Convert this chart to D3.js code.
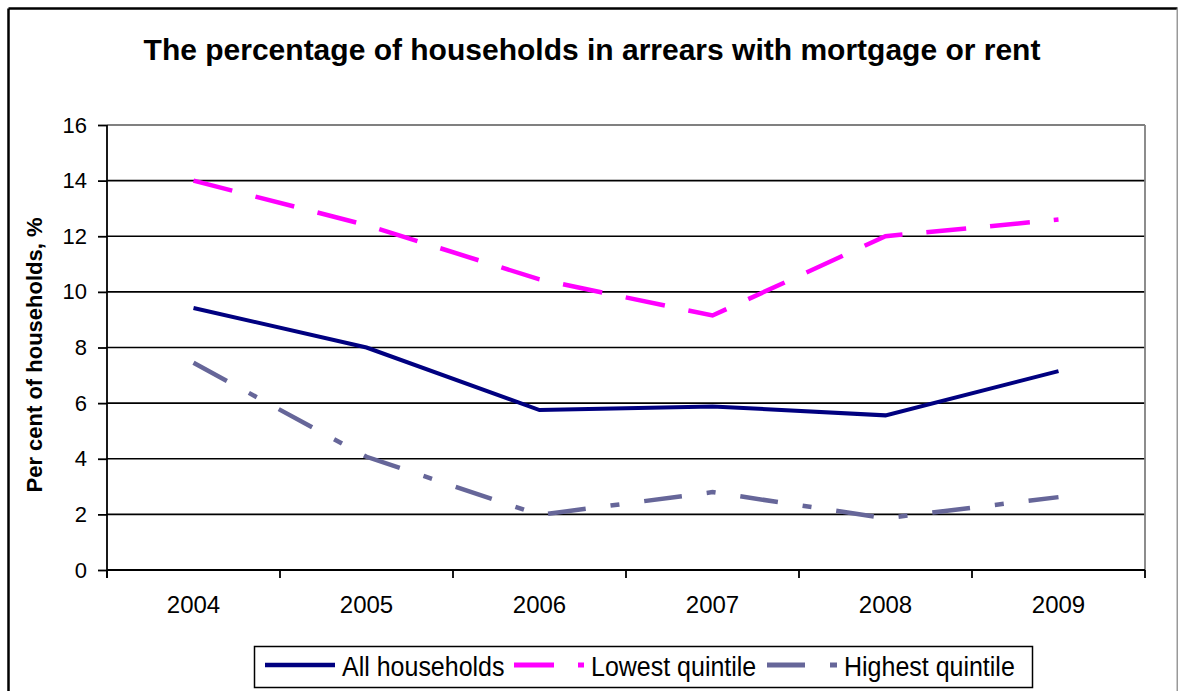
<!DOCTYPE html>
<html>
<head>
<meta charset="utf-8">
<script src="https://cdn.jsdelivr.net/npm/d3@7"></script>
<style>
  html, body { margin: 0; padding: 0; background: #fff; }
  svg { display: block; font-family: Arial, "Liberation Sans", sans-serif; }
</style>
</head>
<body>
<svg id="chart" width="1178" height="691"></svg>
<script>
const years = ["2004", "2005", "2006", "2007", "2008", "2009"];
const allHouseholds = [9.42, 8.0, 5.75, 5.88, 5.56, 7.15];
const lowestQuintile = [14.0, 12.4, 10.45, 9.15, 12.0, 12.6];
const highestQuintile = [7.45, 4.07, 1.98, 2.8, 1.86, 2.62];
const yTicks = [0, 2, 4, 6, 8, 10, 12, 14, 16];
const seriesNames = ["All households", "Lowest quintile", "Highest quintile"];
const title = "The percentage of households in arrears with mortgage or rent";
const yLabel = "Per cent of households, %";

const styles = [
  { color: "#000080", width: 4, dash: null },
  { color: "#FF00FF", width: 4.5, dash: "40,24" },
  { color: "#666699", width: 4.5, dash: "38,25,9,25" }
];
const seriesValues = [allHouseholds, lowestQuintile, highestQuintile];

const svg = d3.select("#chart");
const L = 107, R = 1145, T = 125, B = 570;

// outer frame
svg.append("line").attr("x1", 8.5).attr("x2", 8.5).attr("y1", 8.5).attr("y2", 700)
  .attr("stroke", "#000").attr("stroke-width", 2.5);
svg.append("line").attr("x1", 8.5).attr("x2", 1177.5).attr("y1", 8.5).attr("y2", 8.5)
  .attr("stroke", "#000").attr("stroke-width", 2.5);
svg.append("line").attr("x1", 1177.5).attr("x2", 1177.5).attr("y1", 8.5).attr("y2", 700)
  .attr("stroke", "#999").attr("stroke-width", 2);

// title
svg.append("text").attr("x", 592).attr("y", 60).attr("text-anchor", "middle")
  .attr("font-size", 30).attr("font-weight", "bold").attr("fill", "#000").text(title);

const x = d3.scalePoint().domain(years).range([L, R]).padding(0.5);
const xb = d3.scaleBand().domain(years).range([L, R]);
const y = d3.scaleLinear().domain([0, 16]).range([B, T]);

// gridlines
svg.append("g").selectAll("line").data(yTicks.filter(d => d > 0 && d < 16)).join("line")
  .attr("x1", L).attr("x2", R).attr("y1", d => y(d)).attr("y2", d => y(d))
  .attr("stroke", "#000").attr("stroke-width", 1.6);

// plot border top/right (gray)
svg.append("line").attr("x1", L).attr("x2", R).attr("y1", y(16)).attr("y2", y(16))
  .attr("stroke", "#808080").attr("stroke-width", 1.8);
svg.append("line").attr("x1", R).attr("x2", R).attr("y1", y(16)).attr("y2", y(0))
  .attr("stroke", "#808080").attr("stroke-width", 1.8);

// y axis
const yAxis = svg.append("g").attr("transform", `translate(${L},0)`)
  .call(d3.axisLeft(y).tickValues(yTicks).tickSize(9).tickPadding(11).tickFormat(d3.format("d")));
yAxis.select(".domain").attr("stroke", "#000").attr("stroke-width", 1.8)
  .attr("d", `M0,${y(16)}V${B + 8}`);
yAxis.selectAll(".tick line").attr("stroke", "#000").attr("stroke-width", 1.8);
yAxis.selectAll(".tick text").attr("font-size", 22).attr("fill", "#000")
  .attr("font-family", "Arial, 'Liberation Sans', sans-serif");

// x axis
const xAxis = svg.append("g").attr("transform", `translate(0,${B})`)
  .call(d3.axisBottom(xb).tickSize(0).tickPadding(26));
xAxis.select(".domain").attr("stroke", "#000").attr("stroke-width", 1.8)
  .attr("d", `M${L},0H${R}`);
xAxis.selectAll(".tick text").attr("font-size", 24).attr("fill", "#000")
  .attr("font-family", "Arial, 'Liberation Sans', sans-serif");
const boundaries = years.map(d => xb(d)).concat([xb.range()[1]]);
xAxis.append("g").selectAll("line").data(boundaries).join("line")
  .attr("x1", d => d).attr("x2", d => d).attr("y1", 0).attr("y2", 8)
  .attr("stroke", "#000").attr("stroke-width", 1.8);

// y label
svg.append("text").attr("transform", "translate(42,355) rotate(-90)")
  .attr("text-anchor", "middle").attr("font-size", 22).attr("font-weight", "bold")
  .attr("fill", "#000").text(yLabel);

// lines
const line = d3.line().x((d, i) => x(years[i])).y(d => y(d));
seriesValues.forEach((vals, k) => {
  const p = svg.append("path").datum(vals).attr("d", line)
    .attr("fill", "none").attr("stroke", styles[k].color)
    .attr("stroke-width", styles[k].width).attr("stroke-linejoin", "miter");
  if (styles[k].dash) p.attr("stroke-dasharray", styles[k].dash);
});

// legend
const legend = svg.append("g");
legend.append("rect").attr("x", 254.5).attr("y", 646.5).attr("width", 778).attr("height", 41)
  .attr("fill", "#fff").attr("stroke", "#000").attr("stroke-width", 1.5);
const legendX = [265, 514, 767];
seriesNames.forEach((name, k) => {
  const lx = legendX[k];
  const ln = legend.append("line").attr("x1", lx).attr("x2", lx + 70).attr("y1", 665).attr("y2", 665)
    .attr("stroke", styles[k].color).attr("stroke-width", styles[k].width + 0.5);
  if (styles[k].dash) ln.attr("stroke-dasharray", styles[k].dash);
  legend.append("text").attr("transform", `translate(${lx + 77},676) scale(1,1.08)`)
    .attr("font-size", 25).attr("fill", "#000").text(name);
});
</script>
</body>
</html>
